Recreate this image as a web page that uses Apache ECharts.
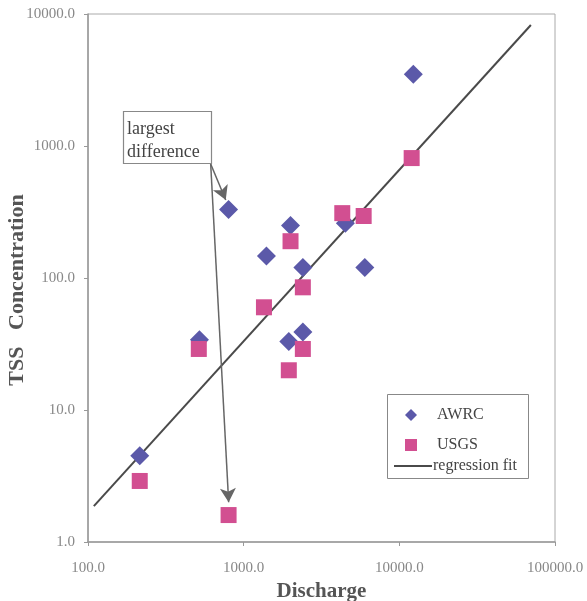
<!DOCTYPE html>
<html>
<head>
<meta charset="utf-8">
<script src="https://cdn.jsdelivr.net/npm/echarts@6/dist/echarts.min.js"></script>
<style>html,body{margin:0;padding:0;background:#fff;}#c{width:587px;height:601px;}</style>
</head>
<body>
<div id="c"></div>
<script>
// Data
const awrcDischarge = [215, 800, 2000, 1400, 2400, 6000, 520, 2400, 1950, 12300, 4500];
const awrcTSS       = [4.5, 330, 250, 147, 120, 120, 34, 39, 33, 3500, 260];
const usgsDischarge = [215, 800, 2000, 2400, 1350, 515, 2400, 1950, 12000, 4300, 5900];
const usgsTSS       = [2.9, 1.6, 190, 85, 60, 29, 29, 20, 810, 310, 295];
const regDischarge  = [109, 70000];
const regTSS        = [1.87, 8260];
const xTicks = [100, 1000, 10000, 100000];
const yTicks = [1, 10, 100, 1000, 10000];
// annotation arrows: start and ends (data coordinates)
const arrowStart = [614, 731];
const arrowEnds = [[767, 390], [801, 2.0]];

const serif = '"Liberation Serif", "DejaVu Serif", serif';
const zip = (a, b) => a.map((v, i) => [v, b[i]]);

const chart = echarts.init(document.getElementById('c'), null, {renderer: 'canvas'});
chart.setOption({
  backgroundColor: '#fff',
  animation: false,
  grid: {left: 88, right: 32, top: 14, bottom: 59, show: true, borderColor: '#aaa', borderWidth: 1,
    containLabel: false, outerBoundsMode: 'none'},
  xAxis: {
    type: 'log', logBase: 10, min: xTicks[0], max: xTicks[xTicks.length - 1],
    name: 'Discharge', nameLocation: 'middle', nameGap: 39,
    nameTextStyle: {fontFamily: serif, fontWeight: 'bold', fontSize: 21, color: '#555'},
    axisLine: {lineStyle: {color: '#999', width: 1.5}},
    axisTick: {show: true, length: 4, lineStyle: {color: '#999'}},
    minorTick: {show: false},
    splitLine: {show: false},
    axisLabel: {fontFamily: serif, fontSize: 15, color: '#888', margin: 19,
      formatter: v => Number(v).toFixed(1)}
  },
  yAxis: {
    type: 'log', logBase: 10, min: yTicks[0], max: yTicks[yTicks.length - 1],
    axisLine: {lineStyle: {color: '#999', width: 1.5}},
    axisTick: {show: true, length: 4, lineStyle: {color: '#999'}},
    splitLine: {show: false},
    axisLabel: {fontFamily: serif, fontSize: 15, color: '#888', margin: 13,
      formatter: v => Number(v).toFixed(1)}
  },
  legend: {
    orient: 'vertical', left: 405, top: 407, padding: 0,
    itemWidth: 12, itemHeight: 12, itemGap: 14,
    textStyle: {fontFamily: serif, fontSize: 16, color: '#444', padding: [0, 0, 0, 15]},
    data: [{name: 'AWRC', icon: 'diamond'}, {name: 'USGS', icon: 'rect'}]
  },
  graphic: [
    {type: 'text', x: 17, y: 290, rotation: Math.PI / 2,
      style: {text: 'TSS   Concentration', font: 'bold 22px ' + serif, fill: '#555',
        align: 'center', verticalAlign: 'middle'}},
    {type: 'rect', shape: {x: 387.5, y: 394.5, width: 141, height: 84},
      style: {fill: null, stroke: '#888', lineWidth: 1}, z: 0},
    {type: 'line', shape: {x1: 394, y1: 466, x2: 432, y2: 466},
      style: {stroke: '#4a4a4a', lineWidth: 2}, z: 5},
    {type: 'text', x: 433, y: 466,
      style: {text: 'regression fit', font: '16px ' + serif, fill: '#444', verticalAlign: 'middle'}, z: 5},
    {type: 'rect', shape: {x: 123.5, y: 111.5, width: 88, height: 52},
      style: {fill: '#fff', stroke: '#888', lineWidth: 1.2}, z: 10},
    {type: 'text', x: 127, y: 118,
      style: {text: 'largest\ndifference', font: '18px ' + serif, fill: '#444', lineHeight: 23}, z: 11}
  ],
  series: [
    {
      name: 'regression fit', type: 'line', symbol: 'none', silent: true,
      data: zip(regDischarge, regTSS),
      lineStyle: {color: '#4a4a4a', width: 2},
      itemStyle: {color: '#4a4a4a'},
      z: 1,
      markLine: {
        silent: true, symbol: ['none', 'arrow'], symbolSize: [12, 14],
        lineStyle: {color: '#666', width: 1.5, type: 'solid'},
        label: {show: false},
        data: arrowEnds.map(e => [{coord: arrowStart}, {coord: e}])
      }
    },
    {
      name: 'AWRC', type: 'scatter', symbol: 'diamond', symbolSize: 19,
      data: zip(awrcDischarge, awrcTSS),
      itemStyle: {color: '#5b59a9', opacity: 1}, z: 3
    },
    {
      name: 'USGS', type: 'scatter', symbol: 'rect', symbolSize: 16,
      data: zip(usgsDischarge, usgsTSS),
      itemStyle: {color: '#d24f91', opacity: 1}, z: 4
    }
  ]
});
</script>
</body>
</html>
